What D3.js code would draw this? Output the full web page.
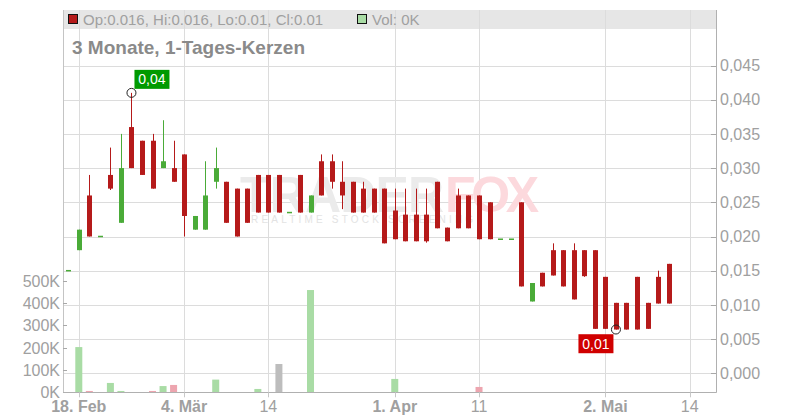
<!DOCTYPE html>
<html><head><meta charset="utf-8">
<script src="https://cdn.jsdelivr.net/npm/d3@7/dist/d3.min.js"></script>
<style>
body{margin:0;background:#fff}
svg{display:block;font-family:"Liberation Sans",Arial,sans-serif}
</style>
</head><body>
<svg id="chart" width="800" height="420"></svg>
<script>
// ---- data ----
const dates = [
  "2019-02-15","2019-02-18","2019-02-19","2019-02-20","2019-02-21","2019-02-22","2019-02-25","2019-02-26","2019-02-27","2019-02-28",
  "2019-03-01","2019-03-04","2019-03-05","2019-03-06","2019-03-07","2019-03-08","2019-03-11","2019-03-12","2019-03-13","2019-03-14",
  "2019-03-15","2019-03-18","2019-03-19","2019-03-20","2019-03-21","2019-03-22","2019-03-25","2019-03-26","2019-03-27","2019-03-28",
  "2019-03-29","2019-04-01","2019-04-02","2019-04-03","2019-04-04","2019-04-05","2019-04-08","2019-04-09","2019-04-10","2019-04-11",
  "2019-04-12","2019-04-15","2019-04-16","2019-04-17","2019-04-18","2019-04-23","2019-04-24","2019-04-25","2019-04-26","2019-04-29",
  "2019-04-30","2019-05-02","2019-05-03","2019-05-06","2019-05-07","2019-05-08","2019-05-09","2019-05-10"
];
const futureDates = ["2019-05-13","2019-05-14"];
const open = [
  0.015,0.018,0.026,0.020,0.029,0.022,0.036,0.034,0.034,0.030,
  0.030,0.032,0.021,0.021,0.028,0.028,0.027,0.027,0.029,0.029,
  0.029,0.0235,0.029,0.0235,0.031,0.031,0.028,0.028,0.027,0.027,
  0.027,0.0238,0.0232,0.0232,0.0232,0.028,0.0213,0.026,0.026,0.026,
  0.025,0.0196,0.0196,0.025,0.0105,0.0147,0.018,0.018,0.018,0.018,
  0.018,0.0141,0.0103,0.0103,0.0141,0.0103,0.0141,0.016
];
const high = [
  0.015,0.021,0.029,0.020,0.033,0.035,0.041,0.034,0.035,0.037,
  0.034,0.032,0.023,0.031,0.033,0.028,0.027,0.027,0.029,0.029,
  0.029,0.0235,0.029,0.026,0.032,0.032,0.031,0.028,0.028,0.027,
  0.027,0.027,0.027,0.027,0.027,0.028,0.0213,0.027,0.026,0.026,
  0.025,0.0196,0.0196,0.025,0.0132,0.0147,0.019,0.018,0.019,0.018,
  0.018,0.0141,0.0103,0.0103,0.0141,0.0103,0.015,0.016
];
const low = [
  0.015,0.018,0.020,0.020,0.0268,0.022,0.030,0.029,0.027,0.030,
  0.028,0.020,0.021,0.021,0.027,0.022,0.020,0.022,0.0235,0.0235,
  0.0235,0.0235,0.0235,0.0235,0.026,0.027,0.024,0.0235,0.0235,0.0235,
  0.019,0.0196,0.0193,0.0193,0.0191,0.0212,0.0193,0.0212,0.0212,0.0196,
  0.0196,0.0196,0.0196,0.0127,0.0105,0.0127,0.0143,0.0127,0.0108,0.0141,
  0.0065,0.0065,0.0064,0.0064,0.0064,0.0065,0.0102,0.0102
];
const close = [
  0.015,0.021,0.020,0.020,0.027,0.030,0.030,0.029,0.027,0.031,
  0.028,0.023,0.023,0.026,0.030,0.022,0.020,0.022,0.0235,0.0235,
  0.0235,0.0235,0.0235,0.026,0.026,0.028,0.026,0.0235,0.0235,0.0235,
  0.019,0.0196,0.0193,0.0193,0.0193,0.0212,0.0193,0.0212,0.0212,0.0196,
  0.0196,0.0196,0.0196,0.0127,0.0132,0.0127,0.0143,0.0127,0.0108,0.0142,
  0.0065,0.0065,0.0064,0.0064,0.0064,0.0065,0.0102,0.0102
];
const volume = [
  0,203000,6000,0,42000,6000,0,0,6000,28000,
  33000,0,0,0,57000,0,0,0,15000,0,
  127000,0,0,459000,0,0,0,0,0,0,
  0,60000,0,0,0,0,0,0,0,24000,
  0,0,0,0,0,0,0,0,0,0,
  0,0,0,0,0,0,0,0
];
const priceTicks = [0,0.005,0.010,0.015,0.020,0.025,0.030,0.035,0.040,0.045];
const volumeTicks = [0,100000,200000,300000,400000,500000];
const dateTicks = ["2019-02-18","2019-03-04","2019-03-14","2019-04-01","2019-04-11","2019-05-02","2019-05-14"];
const dateTickLabels = ["18. Feb","4. Mär","14","1. Apr","11","2. Mai","14"];
const dateTickBold = [true,true,false,true,false,true,false];
const legendText = "Op:0.016, Hi:0.016, Lo:0.01, Cl:0.01";
const volLegendText = "Vol: 0K";
const titleText = "3 Monate, 1-Tages-Kerzen";

// ---- layout ----
const L = 63, R = 716, T = 10, B = 392.3;
const svg = d3.select("#chart");
const allDates = dates.concat(futureDates);
const x = d3.scaleLinear().domain([-0.5, 61.5]).range([L, R]);
const y = d3.scaleLinear().domain([0, 0.045]).range([373.3, 65.5]);
const yv = d3.scaleLinear().domain([0, 500000]).range([B, 280.9]);
const idx = d => allDates.indexOf(d);

const RED = "#b51a1a", GREEN = "#4aab38";
const VGREEN = "#a9dca5", VRED = "#eda5af", VGRAY = "#bdbdbd";
const TXT = "#a0a0a0";

// header band
svg.append("rect").attr("x", L).attr("y", T).attr("width", R - L).attr("height", 19).attr("fill", "#e6e6e6");

// grid
svg.append("g").selectAll("line").data(priceTicks).join("line")
  .attr("x1", L).attr("x2", R).attr("y1", d => Math.round(y(d)) + 0.5).attr("y2", d => Math.round(y(d)) + 0.5)
  .attr("stroke", "#dcdcdc").attr("stroke-width", 1);
svg.append("g").selectAll("line").data(dateTicks).join("line")
  .attr("x1", d => Math.round(x(idx(d))) + 0.5).attr("x2", d => Math.round(x(idx(d))) + 0.5)
  .attr("y1", T).attr("y2", B)
  .attr("stroke", "#dcdcdc").attr("stroke-width", 1);

// watermark
const wm = svg.append("g").attr("opacity", 1);
wm.append("text").attr("x", 240).attr("y", 212).attr("font-size", 50).attr("font-weight", "bold")
  .attr("fill", "#ebebeb").attr("textLength", 204).text("TRADER");
wm.append("text").attr("x", 445).attr("y", 212).attr("font-size", 50).attr("font-weight", "bold")
  .attr("fill", "#fcd9dd").attr("textLength", 94).text("FOX");
wm.append("text").attr("x", 251).attr("y", 223).attr("font-size", 10)
  .attr("fill", "#e3e3e3").attr("letter-spacing", 3.2).text("REALTIME STOCK SCREENING");

// title & legend
svg.append("text").attr("x", 72).attr("y", 54).attr("font-size", 19).attr("font-weight", "bold")
  .attr("fill", "#8a8a8a").text(titleText);
svg.append("rect").attr("x", 68.5).attr("y", 14.5).attr("width", 9).attr("height", 9)
  .attr("fill", RED).attr("stroke", "#111");
svg.append("text").attr("x", 83).attr("y", 24.5).attr("font-size", 15).attr("fill", TXT).text(legendText);
svg.append("rect").attr("x", 357.5).attr("y", 14.5).attr("width", 9).attr("height", 9)
  .attr("fill", VGREEN).attr("stroke", "#111");
svg.append("text").attr("x", 372).attr("y", 24.5).attr("font-size", 15).attr("fill", TXT).text(volLegendText);

// volume bars
const vdata = volume.map((v, i) => ({i, v, c: i === 0 ? 1 : Math.sign(close[i] - close[i - 1])}));
svg.append("g").selectAll("rect").data(vdata.filter(d => d.v > 0)).join("rect")
  .attr("x", d => x(d.i) - 3.5).attr("width", 7)
  .attr("y", d => yv(d.v)).attr("height", d => yv(0) - yv(d.v))
  .attr("fill", d => d.c > 0 ? VGREEN : d.c < 0 ? VRED : VGRAY);

// candles
const cdata = dates.map((d, i) => ({i, o: open[i], h: high[i], l: low[i], c: close[i]}));
const cg = svg.append("g");
cg.selectAll("line").data(cdata.filter(d => d.h > d.l)).join("line")
  .attr("x1", d => Math.round(x(d.i)) + 0.5).attr("x2", d => Math.round(x(d.i)) + 0.5)
  .attr("y1", d => y(d.h)).attr("y2", d => y(d.l))
  .attr("stroke", d => d.c >= d.o ? GREEN : RED).attr("stroke-width", 1);
cg.selectAll("rect").data(cdata).join("rect")
  .attr("x", d => Math.round(x(d.i)) - 2).attr("width", 5)
  .attr("y", d => d.o === d.c ? y(d.o) - 0.75 : y(Math.max(d.o, d.c)))
  .attr("height", d => d.o === d.c ? 1.5 : Math.abs(y(d.o) - y(d.c)))
  .attr("fill", d => d.c >= d.o ? GREEN : RED);

// axes lines
svg.append("line").attr("x1", L + 0.5).attr("x2", L + 0.5).attr("y1", T).attr("y2", B).attr("stroke", "#c4c4c4");
svg.append("line").attr("x1", R + 0.5).attr("x2", R + 0.5).attr("y1", T).attr("y2", B + 0.5).attr("stroke", "#b0b0b0");
svg.append("line").attr("x1", L).attr("x2", R).attr("y1", Math.round(B) + 0.5).attr("y2", Math.round(B) + 0.5).attr("stroke", "#b0b0b0");

// right price axis
const fmtPrice = v => d3.format(".3f")(v).replace(".", ",");
const pa = svg.append("g");
pa.selectAll("line").data(priceTicks).join("line")
  .attr("x1", R - 5).attr("x2", R).attr("y1", d => Math.round(y(d)) + 0.5).attr("y2", d => Math.round(y(d)) + 0.5)
  .attr("stroke", "#a8a8a8");
pa.selectAll("text").data(priceTicks).join("text")
  .attr("x", 720).attr("y", d => y(d)).attr("dy", "0.36em")
  .attr("font-size", 16).attr("fill", TXT).text(fmtPrice);

// left volume axis
const va = svg.append("g");
va.selectAll("line").data(volumeTicks.filter(d => d > 0)).join("line")
  .attr("x1", L).attr("x2", L + 4).attr("y1", d => Math.round(yv(d)) + 0.5).attr("y2", d => Math.round(yv(d)) + 0.5)
  .attr("stroke", "#a8a8a8");
va.selectAll("text").data(volumeTicks).join("text")
  .attr("x", 60).attr("y", d => yv(d)).attr("dy", "0.36em").attr("text-anchor", "end")
  .attr("font-size", 16).attr("fill", TXT).text(d => (d / 1000) + "K");

// bottom date axis
const da = svg.append("g");
da.selectAll("line").data(dateTicks).join("line")
  .attr("x1", d => Math.round(x(idx(d))) + 0.5).attr("x2", d => Math.round(x(idx(d))) + 0.5)
  .attr("y1", B).attr("y2", B + 5).attr("stroke", "#c8c8c8");
da.selectAll("text").data(dateTicks).join("text")
  .attr("x", d => x(idx(d))).attr("y", 412).attr("text-anchor", "middle")
  .attr("font-size", 16).attr("font-weight", (d, i) => dateTickBold[i] ? "bold" : "normal")
  .attr("fill", TXT).text((d, i) => dateTickLabels[i]);

// high / low markers
const fmtLbl = v => d3.format(".2f")(v).replace(".", ",");
const hi = d3.maxIndex(high), lo = d3.minIndex(low);
const hx = x(hi), hy = y(high[hi]);
const lx = x(lo), ly = y(low[lo]);
svg.append("rect").attr("x", hx + 3).attr("y", hy - 23).attr("width", 35).attr("height", 19).attr("fill", "#009a00");
svg.append("text").attr("x", hx + 20.5).attr("y", hy - 8.5).attr("text-anchor", "middle")
  .attr("font-size", 14).attr("fill", "#fff").text(fmtLbl(high[hi]));
svg.append("circle").attr("cx", hx).attr("cy", hy).attr("r", 4.5).attr("fill", "none").attr("stroke", "#222");
svg.append("rect").attr("x", lx - 37.5).attr("y", ly + 4.7).attr("width", 35).attr("height", 19).attr("fill", "#d00000");
svg.append("text").attr("x", lx - 20).attr("y", ly + 19.2).attr("text-anchor", "middle")
  .attr("font-size", 14).attr("fill", "#fff").text(fmtLbl(low[lo]));
svg.append("circle").attr("cx", lx).attr("cy", ly).attr("r", 4.5).attr("fill", "none").attr("stroke", "#222");
</script>
</body></html>
